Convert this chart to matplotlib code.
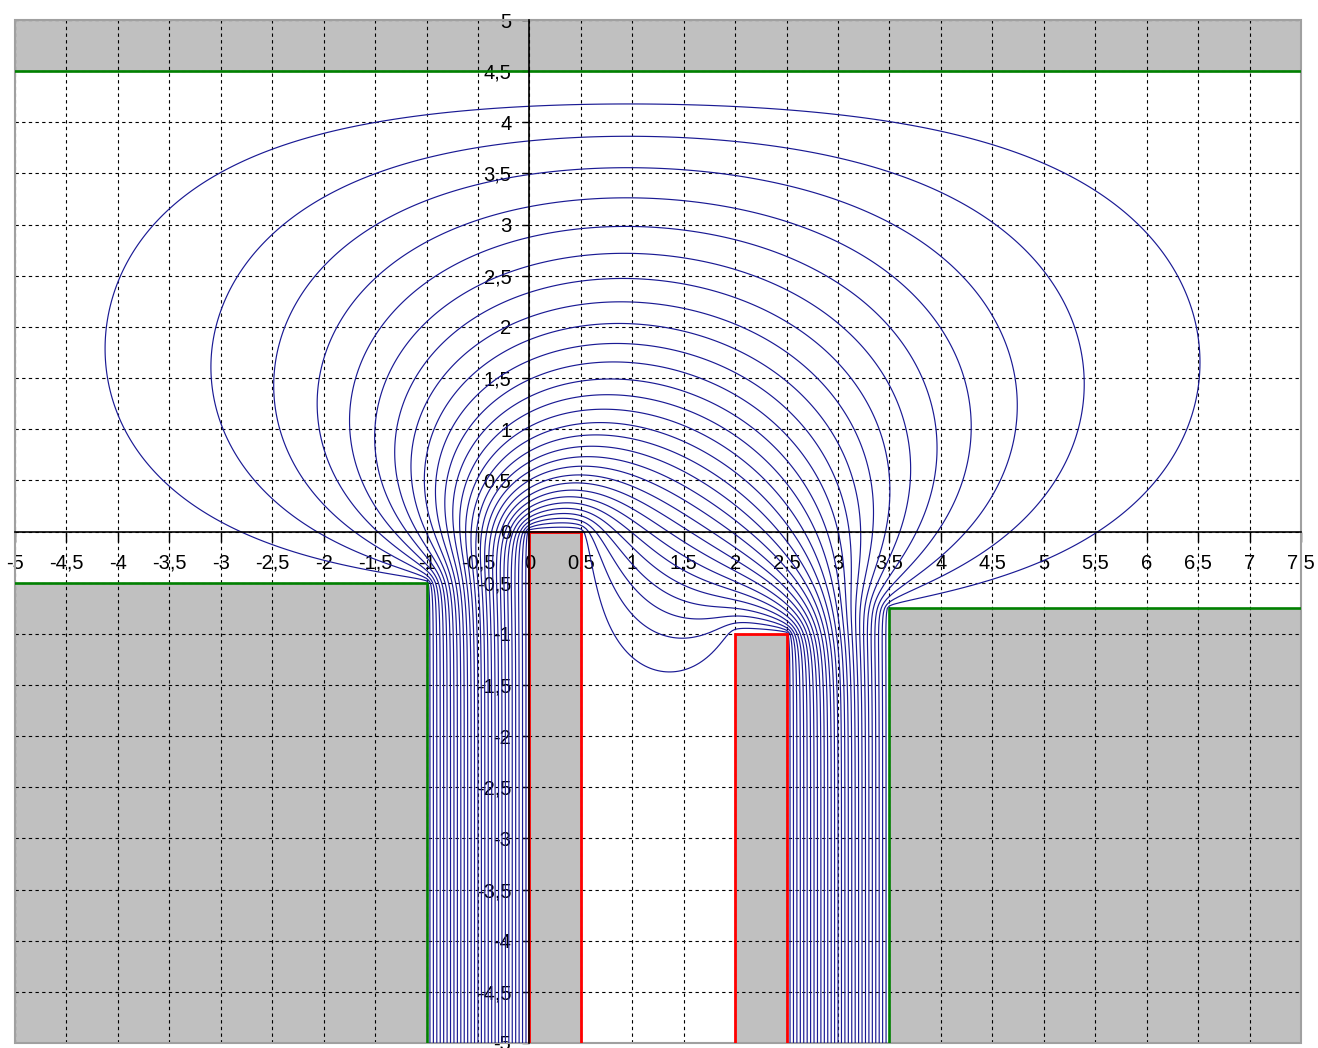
import numpy as np
import matplotlib
matplotlib.use("Agg")
import matplotlib.pyplot as plt
from matplotlib.patches import Rectangle

# ---------------- data ----------------
x_view = [-5.0, 7.5]
y_view = [-5.0, 5.0]
sim_x = [-6.5, 10.0]
sim_bottom = -7.0
sim_top = 4.5
# conductors: [x0, x1, y0, y1]
ground_top = [-6.5, 10.0, 4.5, 5.0]
ground_left = [-6.5, -1.0, -7.0, -0.5]
ground_right = [3.5, 10.0, -7.0, -0.75]
wall_left = [-6.5, -6.5, -7.0, 5.0]
wall_right = [10.0, 10.0, -7.0, 5.0]
electrode_a = [0.0, 0.5, -7.0, 0.0]
electrode_b = [2.0, 2.5, -7.0, -1.0]
ground_potential = 0.0
electrode_potential = 1.0
contour_levels = np.arange(1, 30) / 30.0
x_ticks = np.arange(-5.0, 7.51, 0.5)
y_ticks = np.arange(-5.0, 5.01, 0.5)

conductors = [(ground_top, ground_potential), (ground_left, ground_potential),
              (ground_right, ground_potential), (electrode_a, electrode_potential),
              (electrode_b, electrode_potential)]
walls = [(wall_left, ground_potential), (wall_right, ground_potential)]


# ---------------- Laplace solver (red-black SOR, coarse to fine) ----------------
def build(h):
    xs = np.round(np.arange(sim_x[0], sim_x[1] + h / 2, h), 6)
    ys = np.round(np.arange(sim_bottom, sim_top + h / 2, h), 6)
    X, Y = np.meshgrid(xs, ys)
    fixed = np.zeros(X.shape, bool)
    val = np.zeros(X.shape)
    e = 1e-9
    for (x0, x1, y0, y1), v in conductors + walls:
        m = (X >= x0 - e) & (X <= x1 + e) & (Y >= y0 - e) & (Y <= y1 + e)
        fixed |= m
        val[m] = v
    return xs, ys, fixed, val


def sor(P, fixed, val, iters, omega):
    ii, jj = np.indices(P.shape)
    red = (((ii + jj) % 2) == 0) & ~fixed
    black = (((ii + jj) % 2) == 1) & ~fixed
    P[fixed] = val[fixed]
    for _ in range(iters):
        for m in (red, black):
            Pp = np.pad(P, 1, mode="reflect")
            avg = 0.25 * (Pp[1:-1, :-2] + Pp[1:-1, 2:] + Pp[:-2, 1:-1] + Pp[2:, 1:-1])
            P = np.where(m, P + omega * (avg - P), P)
    return P


def interp2(xs_c, ys_c, Pc, xs_f, ys_f):
    tmp = np.array([np.interp(xs_f, xs_c, row) for row in Pc])
    return np.array([np.interp(ys_f, ys_c, col) for col in tmp.T]).T


P = None
prev = None
for h, iters in [(0.1, 1800), (0.05, 900), (0.025, 800)]:
    xs, ys, fixed, val = build(h)
    if P is None:
        P = np.full(fixed.shape, 0.3)
    else:
        P = interp2(prev[0], prev[1], P, xs, ys)
    n = max(len(xs), len(ys))
    omega = 2.0 / (1.0 + np.sin(np.pi / n))
    P = sor(P, fixed, val, iters, omega)
    prev = (xs, ys)

# ---------------- plot ----------------
fig = plt.figure(figsize=(13.18, 10.48), dpi=100)
ax = fig.add_axes([15 / 1318, 5 / 1048, 1286 / 1318, 1023 / 1048])
ax.set_xlim(*x_view)
ax.set_ylim(*y_view)

gray = "#c0c0c0"
for (x0, x1, y0, y1), v in conductors:
    ax.add_patch(Rectangle((x0, y0), x1 - x0, y1 - y0, facecolor=gray,
                           edgecolor="none", zorder=1))

ax.contour(xs, ys, P, levels=contour_levels, colors="#1a1a94",
           linewidths=0.85, zorder=3)

red = "#ff0000"
green = "#008000"
for el in (electrode_a, electrode_b):
    ax.plot([el[0], el[0], el[1], el[1]], [y_view[0], el[3], el[3], y_view[0]],
            color=red, lw=2.0, zorder=4, solid_joinstyle="miter")
ax.plot([x_view[0], x_view[1]], [ground_top[2], ground_top[2]], color=green, lw=1.9, zorder=4)
ax.plot([x_view[0], ground_left[1], ground_left[1]],
        [ground_left[3], ground_left[3], y_view[0]], color=green, lw=1.9, zorder=4)
ax.plot([ground_right[0], ground_right[0], x_view[1]],
        [y_view[0], ground_right[3], ground_right[3]], color=green, lw=1.9, zorder=4)

# axes through origin
ax.spines["left"].set_position(("data", 0))
ax.spines["bottom"].set_position(("data", 0))
for s in ("left", "bottom"):
    ax.spines[s].set_color("black")
    ax.spines[s].set_linewidth(1.2)
    ax.spines[s].set_zorder(5)
for s in ("top", "right"):
    ax.spines[s].set_visible(False)
ax.add_patch(Rectangle((0, 0), 1, 1, transform=ax.transAxes, fill=False,
                       edgecolor="#a0a0a0", lw=1.5, clip_on=False, zorder=2))


def fmt(v):
    s = f"{v:g}"
    return s.replace(".", ",")


ax.set_xticks(x_ticks)
ax.set_yticks(y_ticks)
ax.set_xticklabels([fmt(v) for v in x_ticks])
ax.set_yticklabels([fmt(v) for v in y_ticks])
for lab in ax.get_xticklabels() + ax.get_yticklabels():
    lab.set_fontfamily(["Liberation Sans", "DejaVu Sans"])
    lab.set_fontsize(14.5)
    lab.set_clip_on(False)
ax.tick_params(axis="x", direction="out", length=7, width=1, pad=9, colors="black")
ax.tick_params(axis="y", direction="out", length=5, width=1, pad=8, colors="black")
ax.grid(True, color="black", linestyle=(0, (3, 3)), linewidth=0.8)

fig.savefig("out.png", dpi=100)
